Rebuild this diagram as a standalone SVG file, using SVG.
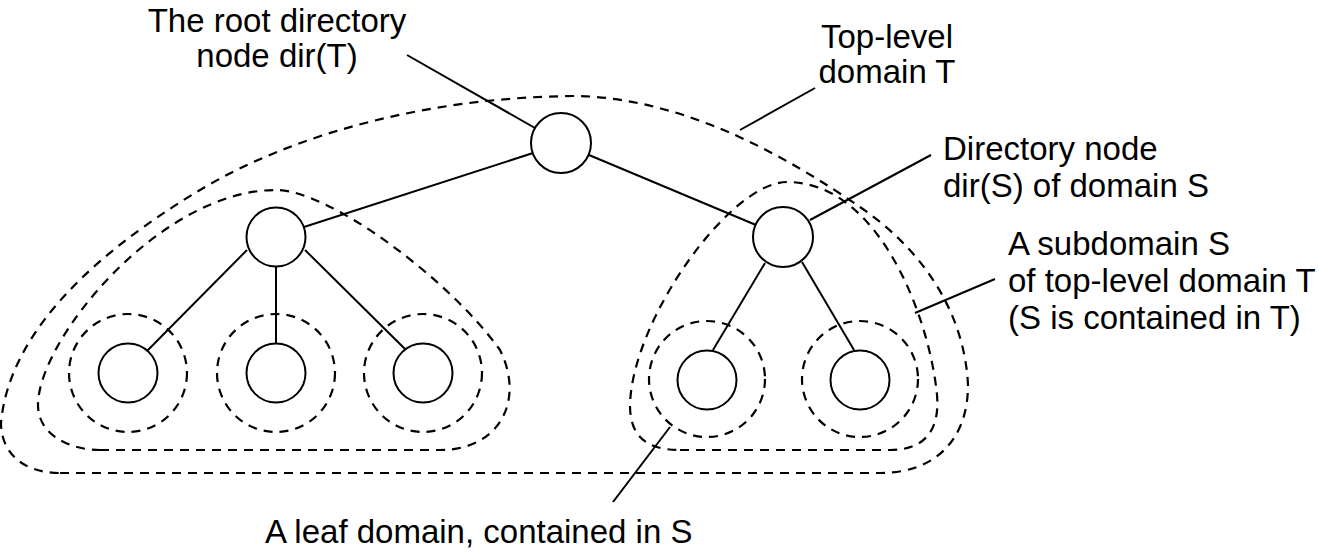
<svg xmlns="http://www.w3.org/2000/svg" width="1319" height="552" viewBox="0 0 1319 552">
<style>
.bg{fill:#fff}
.dom{fill:none;stroke:#000;stroke-width:2.2;stroke-dasharray:9 7}
.node{fill:#fff;stroke:#000;stroke-width:2}
.edge{stroke:#000;stroke-width:2;fill:none}
.lbl{font-family:"Liberation Sans",Arial,Helvetica,sans-serif;font-size:33px;fill:#000}
</style>
<rect class="bg" x="0" y="0" width="1319" height="552"/>
<g id="domains">
  <path id="domain-T" class="dom" d="M 60,473 L 880,473 C 935,473 968,440 968,385 C 965,320 930,255 860,207 C 790,159 690,100 580,96 C 440,96 300,130 200,190 C 120,238 10,320 1,423 C 1,450 20,473 60,473 Z"/>
  <path id="domain-left" class="dom" d="M 100,450 L 440,450 C 500,450 525,400 500,350 C 450,280 330,190 276,190 C 160,190 38,340 38,405 C 38,435 70,450 100,450 Z"/>
  <path id="domain-S" class="dom" d="M 680,450 L 890,450 C 925,450 940,430 937,395 C 930,320 880,182 787,182 C 730,182 632,320 630,405 C 630,435 645,450 680,450 Z"/>
  <circle class="dom" cx="128" cy="373" r="59"/>
  <circle class="dom" cx="276" cy="373" r="59"/>
  <circle class="dom" cx="423" cy="373" r="59"/>
  <circle class="dom" cx="707" cy="379" r="58"/>
  <circle class="dom" cx="860" cy="379" r="58"/>
</g>
<g id="connectors">
  <line class="edge" x1="533" y1="153" x2="304" y2="227"/>
  <line class="edge" x1="589" y1="155" x2="756" y2="225"/>
  <line class="edge" x1="247" y1="250" x2="147" y2="351"/>
  <line class="edge" x1="276" y1="267" x2="276" y2="343"/>
  <line class="edge" x1="305" y1="250" x2="405" y2="349"/>
  <line class="edge" x1="765" y1="263" x2="713" y2="350"/>
  <line class="edge" x1="802" y1="262" x2="854" y2="350"/>
  <line class="edge" x1="407" y1="55" x2="535" y2="128"/>
  <line class="edge" x1="815" y1="88" x2="740" y2="130"/>
  <line class="edge" x1="931" y1="155" x2="810" y2="220"/>
  <line class="edge" x1="995" y1="279" x2="915" y2="313"/>
  <line class="edge" x1="613" y1="502" x2="670" y2="427"/>
</g>
<g id="node-root"><circle class="node" cx="561" cy="143" r="30"/></g>
<g id="node-left"><circle class="node" cx="276" cy="237" r="29.5"/></g>
<g id="node-dirS"><circle class="node" cx="783" cy="237" r="30"/></g>
<g id="leaf-1"><circle class="node" cx="128" cy="373" r="29.5"/></g>
<g id="leaf-2"><circle class="node" cx="276" cy="373" r="29.5"/></g>
<g id="leaf-3"><circle class="node" cx="423" cy="373" r="29.5"/></g>
<g id="leaf-4"><circle class="node" cx="707" cy="380" r="29.5"/></g>
<g id="leaf-5"><circle class="node" cx="860" cy="380" r="29.5"/></g>
<g id="labels">
  <text class="lbl" x="277" y="32" text-anchor="middle">The root directory</text>
  <text class="lbl" x="277" y="67" text-anchor="middle">node dir(T)</text>
  <text class="lbl" x="887" y="48" text-anchor="middle">Top-level</text>
  <text class="lbl" x="887" y="83" text-anchor="middle">domain T</text>
  <text class="lbl" x="943" y="160">Directory node</text>
  <text class="lbl" x="943" y="197">dir(S) of domain S</text>
  <text class="lbl" x="1008" y="255">A subdomain S</text>
  <text class="lbl" x="1008" y="292">of top-level domain T</text>
  <text class="lbl" x="1008" y="329">(S is contained in T)</text>
  <text class="lbl" x="265" y="543">A leaf domain, contained in S</text>
</g>
</svg>
